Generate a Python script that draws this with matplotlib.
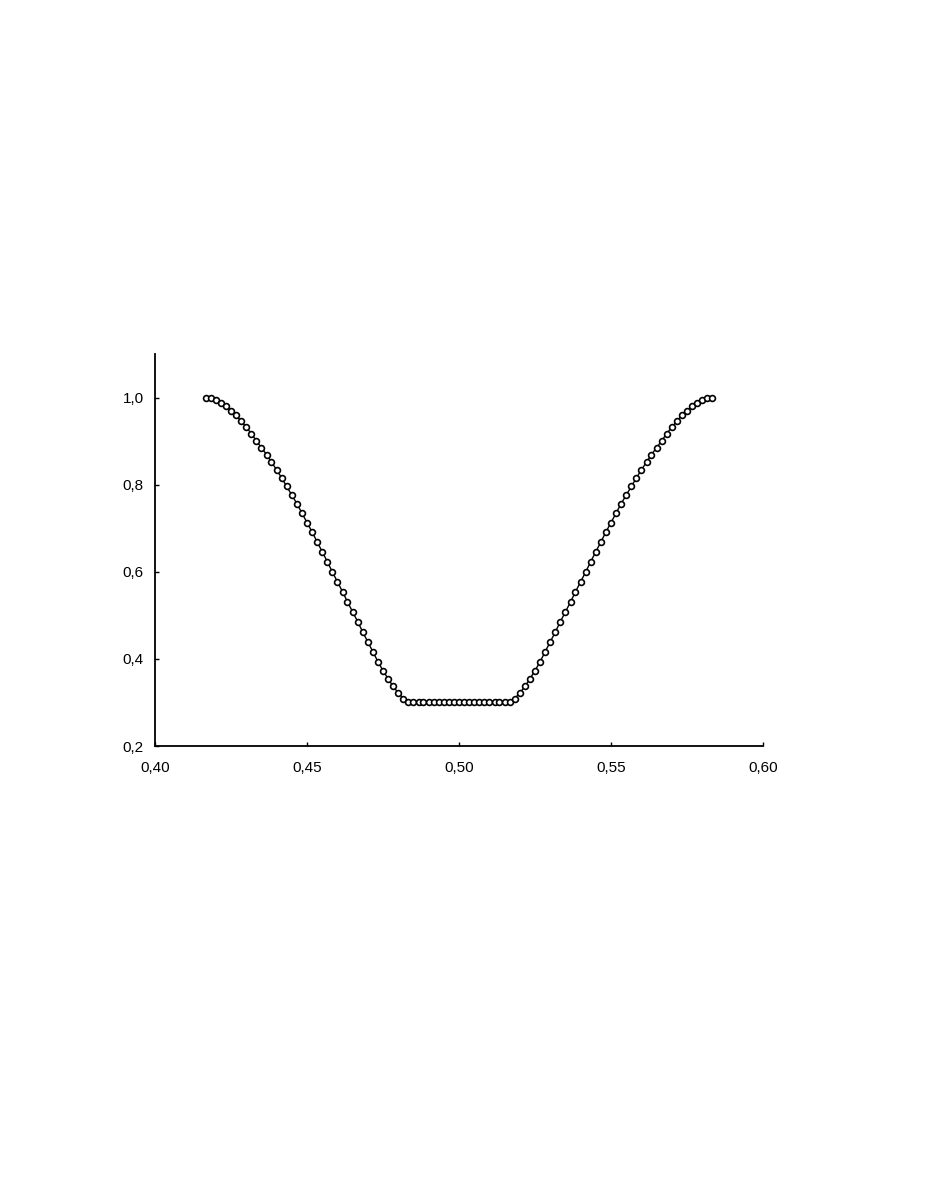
import matplotlib
matplotlib.use("Agg")
import matplotlib.pyplot as plt

plt.rcParams['font.family'] = ['Liberation Sans', 'DejaVu Sans']

# x values (step 1/600)
x = [0.4167, 0.4183, 0.4200, 0.4217, 0.4233, 0.4250, 0.4267, 0.4283, 0.4300, 0.4317,
     0.4333, 0.4350, 0.4367, 0.4383, 0.4400, 0.4417, 0.4433, 0.4450, 0.4467, 0.4483,
     0.4500, 0.4517, 0.4533, 0.4550, 0.4567, 0.4583, 0.4600, 0.4617, 0.4633, 0.4650,
     0.4667, 0.4683, 0.4700, 0.4717, 0.4733, 0.4750, 0.4767, 0.4783, 0.4800, 0.4817,
     0.4833, 0.4850, 0.4867, 0.4883, 0.4900, 0.4917, 0.4933, 0.4950, 0.4967, 0.4983,
     0.5000, 0.5017, 0.5033, 0.5050, 0.5067, 0.5083, 0.5100, 0.5117, 0.5133, 0.5150,
     0.5167, 0.5183, 0.5200, 0.5217, 0.5233, 0.5250, 0.5267, 0.5283, 0.5300, 0.5317,
     0.5333, 0.5350, 0.5367, 0.5383, 0.5400, 0.5417, 0.5433, 0.5450, 0.5467, 0.5483,
     0.5500, 0.5517, 0.5533, 0.5550, 0.5567, 0.5583, 0.5600, 0.5617, 0.5633, 0.5650,
     0.5667, 0.5683, 0.5700, 0.5717, 0.5733, 0.5750, 0.5767, 0.5783, 0.5800, 0.5817,
     0.5833]

y = [1.000, 0.998, 0.994, 0.988, 0.980, 0.970, 0.959, 0.946, 0.932, 0.917,
     0.901, 0.885, 0.869, 0.852, 0.834, 0.815, 0.796, 0.776, 0.756, 0.735,
     0.713, 0.691, 0.669, 0.646, 0.623, 0.600, 0.577, 0.554, 0.531, 0.508,
     0.485, 0.462, 0.439, 0.416, 0.394, 0.373, 0.354, 0.337, 0.322, 0.309,
     0.300, 0.300, 0.300, 0.300, 0.300, 0.300, 0.300, 0.300, 0.300, 0.300,
     0.300, 0.300, 0.300, 0.300, 0.300, 0.300, 0.300, 0.300, 0.300, 0.300,
     0.300, 0.309, 0.322, 0.337, 0.354, 0.373, 0.394, 0.416, 0.439, 0.462,
     0.485, 0.508, 0.531, 0.554, 0.577, 0.600, 0.623, 0.646, 0.669, 0.691,
     0.713, 0.735, 0.756, 0.776, 0.796, 0.815, 0.834, 0.852, 0.869, 0.885,
     0.901, 0.917, 0.932, 0.946, 0.959, 0.970, 0.980, 0.988, 0.994, 0.998,
     1.000]

xticks = [0.40, 0.45, 0.50, 0.55, 0.60]
xtick_labels = ["0,40", "0,45", "0,50", "0,55", "0,60"]
yticks = [0.2, 0.4, 0.6, 0.8, 1.0]
ytick_labels = ["0,2", "0,4", "0,6", "0,8", "1,0"]

fig = plt.figure(figsize=(9.26, 11.99), dpi=100)
ax = fig.add_axes([0.1674, 0.3778, 0.6566, 0.327])

ax.plot(x, y, color='black', lw=1.0, marker='o', markersize=4.2,
        markerfacecolor='white', markeredgecolor='black', markeredgewidth=1.2)

ax.set_xlim(0.40, 0.60)
ax.set_ylim(0.2, 1.1)
ax.set_xticks(xticks)
ax.set_xticklabels(xtick_labels)
ax.set_yticks(yticks)
ax.set_yticklabels(ytick_labels)

for s in ['top', 'right']:
    ax.spines[s].set_visible(False)
for s in ['left', 'bottom']:
    ax.spines[s].set_linewidth(1.3)
ax.tick_params(direction='in', length=3, width=1.0, labelsize=11)
ax.tick_params(axis='x', pad=10.5)
ax.tick_params(axis='y', pad=8)

fig.savefig("out.png", dpi=100)
